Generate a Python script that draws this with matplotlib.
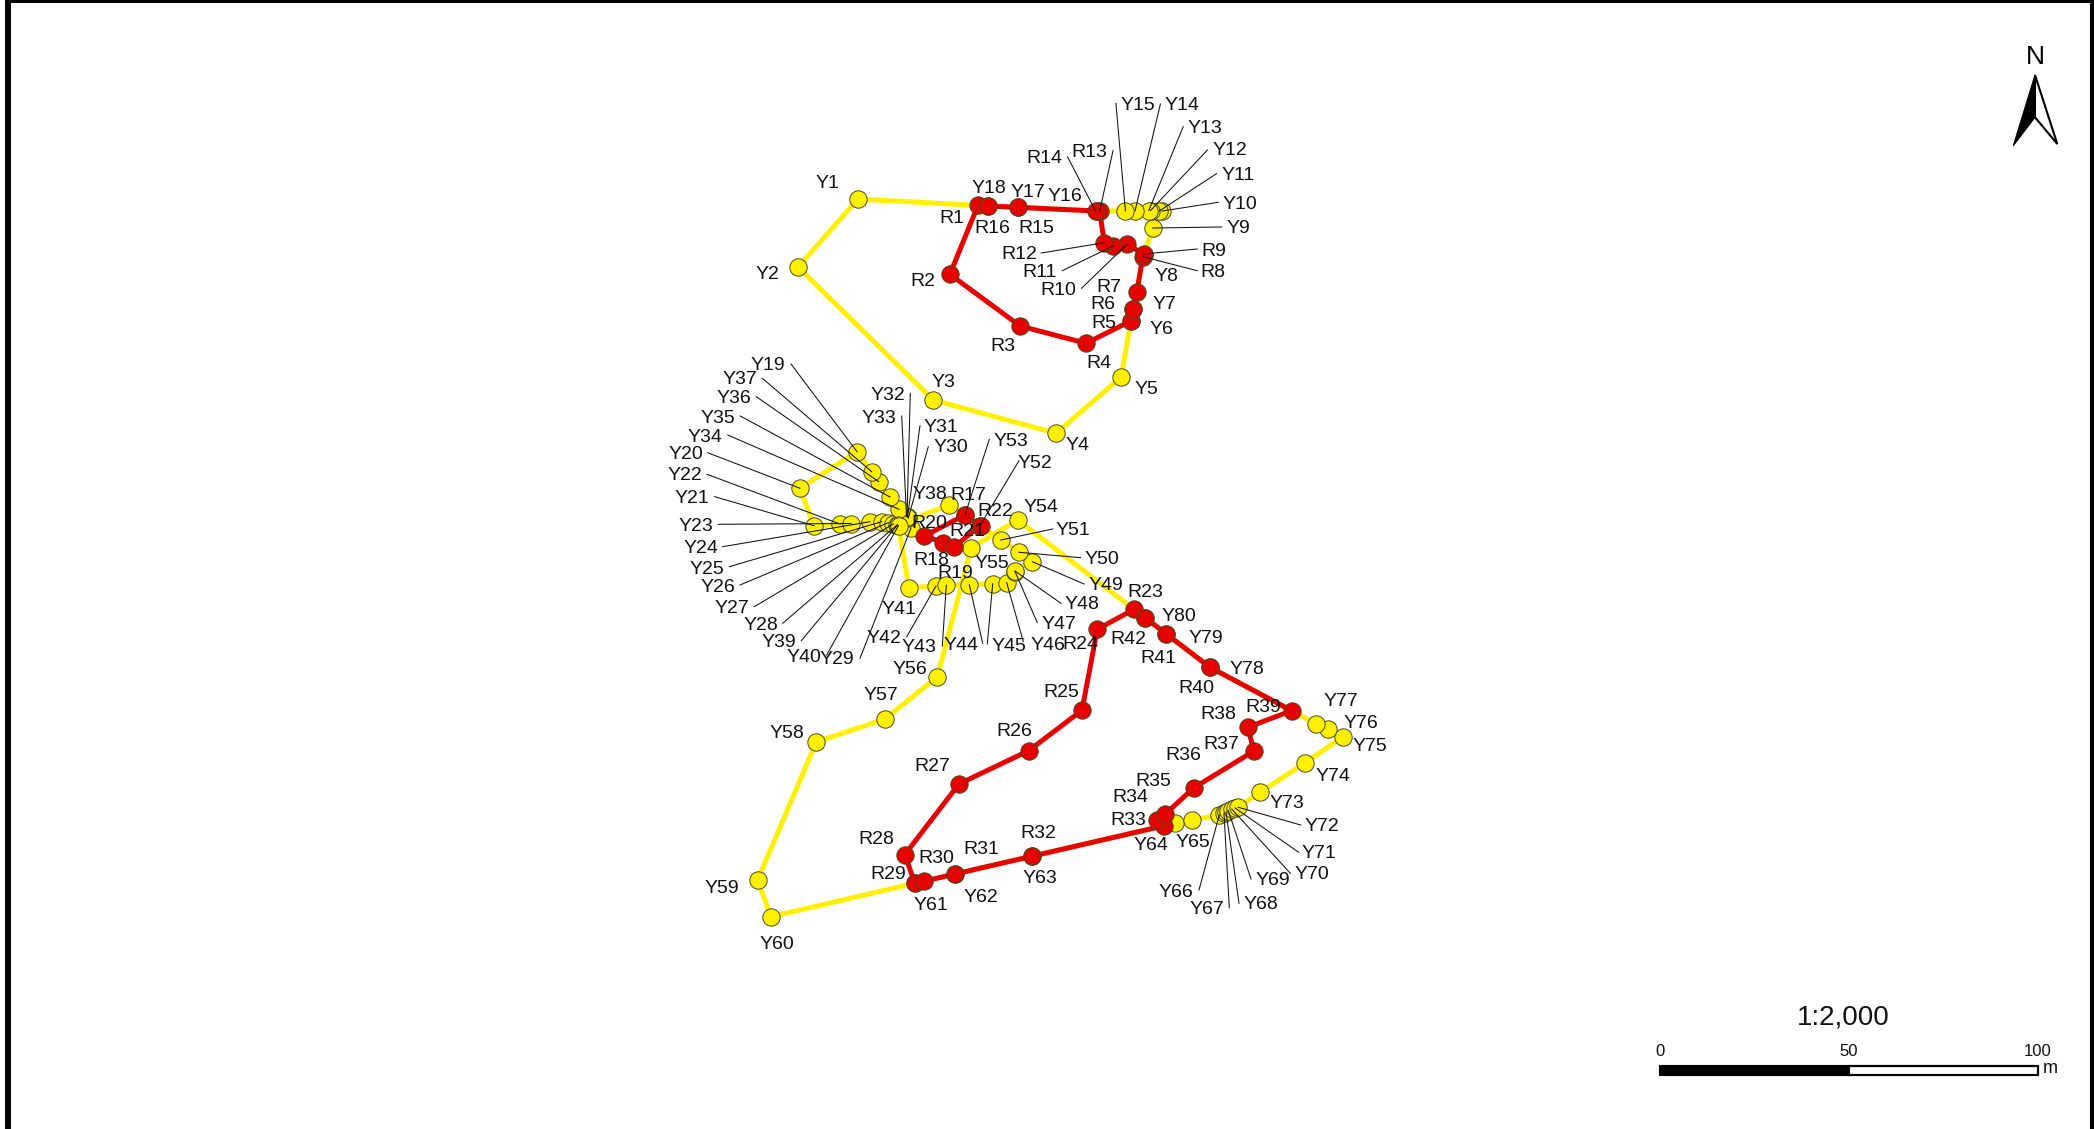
import matplotlib
matplotlib.use("Agg")
import matplotlib.pyplot as plt
from matplotlib.patches import Polygon, Rectangle

plt.rcParams['font.family'] = ['Liberation Sans', 'DejaVu Sans']

#############################################
# DATOS (puntos del mapa)
#############################################
# yellow route Y1..Y80
y_x = [858.1, 798.1, 933.4, 1056.2, 1121.1, 1130.9, 1133.3, 1143.6, 1152.7, 1162.2,
       1159.3, 1150.6, 1148.8, 1135.1, 1125.4, 1097.3, 1017.6, 987.8, 857, 800,
       814, 840, 851, 870, 881.7, 888.3, 893.3, 897, 911, 908.3,
       907.5, 907, 906.5, 899, 890, 878.7, 871.7, 949, 897.5, 898.5,
       909, 936, 946.3, 969.3, 992.7, 1006.7, 1015, 1015, 1032.3, 1019,
       1001, 980, 965, 1017.7, 971.3, 937.3, 885, 816.3, 757.7, 771,
       915, 955, 1031.7, 1175, 1192.3, 1219.3, 1224, 1226, 1228.3, 1231.7,
       1235, 1238.3, 1260, 1305, 1342.7, 1328, 1316, 1210, 1166, 1145]
y_y = [199, 267, 400, 433.3, 377.3, 321, 309, 255, 228, 211,
       211, 210.5, 210.5, 210.7, 211, 211, 207.3, 206, 451.7, 488.3,
       525.7, 524, 523.5, 521.7, 521.7, 522.7, 524, 525, 528, 518,
       517, 516.7, 516.5, 509.3, 497, 481.7, 471.7, 505, 525, 525.5,
       588, 586, 585.3, 584.7, 583.7, 582.7, 571.5, 571, 561.7, 552.3,
       540, 525.7, 515, 520, 547.7, 677, 719, 742, 880, 916.7,
       883.3, 874, 856.3, 823.3, 820, 815, 813.3, 812, 810.5, 809,
       808, 807.3, 792.3, 763, 737, 729.3, 723.7, 667.3, 633.7, 617.7]

# red route R1..R42
r_x = [978, 949.9, 1020.1, 1086, 1130.9, 1133.3, 1136.9, 1142.8, 1143.6, 1127,
       1113, 1104.3, 1099.7, 1095.5, 1017.6, 987.8, 965, 924.3, 943.3, 953.7,
       980, 980.5, 1134, 1097.3, 1082, 1028.7, 959, 904.7, 915, 923.7,
       955, 1031.7, 1164.3, 1156.7, 1165, 1194, 1254, 1247.7, 1291.7, 1210,
       1166, 1145]
r_y = [205.3, 274.3, 326, 343.3, 321, 309, 291.7, 256.7, 254, 244.3,
       246, 242.7, 211, 211, 207.3, 206, 515, 536, 542.7, 547.3,
       525.7, 526, 609.3, 629.3, 710.3, 750.7, 784, 854.7, 883.3, 881.3,
       874, 856.3, 825.7, 820, 814.3, 787.7, 751, 727.3, 710.7, 667.3,
       633.7, 617.7]

# closed loops, first/last number of each one
y_loops = [(1, 18), (19, 37), (38, 53), (54, 80)]
r_loops = [(1, 16), (17, 22), (23, 42)]

# label centres
y_lx = [827.9, 767.6, 943.9, 1077.6, 1146.4, 1161.1, 1164.6, 1166.4, 1238.6, 1240.1,
        1238.3, 1229.5, 1205.3, 1182.2, 1137.6, 1065, 1027.8, 989.2, 768.3, 685.7,
        691.7, 685, 696, 701, 706.7, 718.3, 732.3, 761, 837.3, 951,
        941, 887.7, 879, 705, 718.3, 734, 740, 930, 779, 804.3,
        899.3, 884.3, 919, 961, 1009.3, 1048.3, 1059, 1082.3, 1106, 1102.3,
        1073.3, 1035, 1011, 1041, 991.7, 910, 881, 787.3, 722.3, 777.3,
        930.7, 981, 1040, 1150.7, 1193.3, 1176, 1206.7, 1260.7, 1272.7, 1311.7,
        1319, 1322.3, 1286.7, 1332.7, 1370, 1361.3, 1340.7, 1246.7, 1206, 1179.3]
y_ly = [182.3, 273.3, 380.7, 444.3, 388.3, 328.3, 302.7, 275, 227.3, 202.7,
        173.7, 149.3, 126.7, 104, 104, 195, 190.7, 186.7, 364.3, 453.3,
        497, 474.3, 525, 547.3, 567.7, 586, 607.3, 624, 658.3, 446,
        426, 394.3, 416.7, 436, 416.7, 397.3, 378.3, 493.3, 641, 656,
        608.3, 636.7, 646, 644, 645, 644.3, 623.3, 603.3, 584.3, 557.7,
        529.3, 461.7, 440, 505.7, 561.7, 667.7, 694.3, 731.7, 887.3, 942.7,
        904, 895.7, 877, 844, 841, 891, 908.3, 903.3, 879.3, 873.3,
        852.3, 825, 801.7, 775, 745.3, 721.7, 700, 667.7, 637.3, 615]
r_lx = [951.7, 923.3, 1003.3, 1099, 1104.3, 1103.3, 1108.8, 1213, 1214.1, 1058.6,
        1039.1, 1019.1, 1089.6, 1044.6, 1035.9, 992, 968.3, 931.7, 955, 929,
        967.7, 995.7, 1145, 1080.7, 1061, 1014, 932.7, 876.7, 888.3, 936,
        981.7, 1038.3, 1128.3, 1130, 1153.3, 1183.3, 1221.7, 1218.3, 1263.3, 1196.3,
        1158.3, 1128.3]
r_ly = [217, 280, 345, 362, 322, 303.3, 285.7, 271, 249.7, 289,
        271.3, 253.3, 151, 157.3, 226.7, 227.3, 494, 559, 571.7, 522.3,
        530, 510, 590.7, 643.3, 691, 730.3, 765, 837.7, 872.7, 856.7,
        847.7, 832.3, 819.3, 796, 780, 754.3, 742.7, 713.3, 705.7, 687,
        656.7, 637.7]

# leader lines: where each one starts, it ends on its point
y_leaders = {9: (1221.7, 227), 10: (1218.3, 202.3), 11: (1216.5, 173.7), 12: (1207.4, 150),
             13: (1183.2, 126.7), 14: (1160.4, 104), 15: (1115.9, 103.3), 19: (791, 364),
             20: (707.7, 452.7), 21: (714.7, 496.7), 22: (707, 474.3), 23: (718.3, 524.3),
             24: (722.7, 546.7), 25: (729.3, 566.7), 26: (740, 585), 27: (754.3, 606.7),
             28: (782.7, 623.3), 29: (860, 658.3), 30: (928.3, 446.7), 31: (920, 425.7),
             32: (910.3, 393.3), 33: (901.7, 416), 34: (727.7, 435), 35: (740.3, 416),
             36: (756.3, 396.7), 37: (762.3, 378.3), 39: (801.3, 640.7), 40: (826.7, 655),
             42: (906.7, 636.7), 43: (942.3, 646), 44: (982.7, 643.3), 45: (987.3, 644),
             46: (1023.3, 641.7), 47: (1037.3, 622.7), 48: (1061, 603.3), 49: (1084, 584),
             50: (1080.7, 557.7), 51: (1052.7, 529), 52: (1019, 460.7), 53: (989.3, 439.3),
             66: (1199, 890), 67: (1229.3, 907.7), 68: (1239, 903.3), 69: (1251, 879),
             70: (1290.3, 873.3), 71: (1298.7, 852.3), 72: (1300.7, 825)}
r_leaders = {8: (1197.2, 270.7), 9: (1197.2, 249), 10: (1081.5, 288.3), 11: (1062.2, 270.7),
             12: (1041.2, 253), 13: (1113, 150.7), 14: (1067.5, 156.7)}

# scale bar
scale_text = "1:2,000"
scale_ticks = ["0", "50", "100"]
scale_unit = "m"

#############################################
# GRAFICO
#############################################
fig = plt.figure(figsize=(20.94, 11.29), dpi=100)
ax = fig.add_axes([0, 0, 1, 1])
ax.set_xlim(0, 2094)
ax.set_ylim(1129, 0)
ax.axis("off")


def draw_loops(xs, ys, loops, color, z):
    for a, b in loops:
        idx = list(range(a - 1, b)) + [a - 1]
        ax.plot([xs[i] for i in idx], [ys[i] for i in idx], color=color, lw=3.6,
                solid_joinstyle="round", zorder=z)
    ax.plot(xs, ys, ls="none", marker="o", ms=12.5, mfc=color, mec="#4a4a20", mew=0.7, zorder=z + 1)


draw_loops(y_x, y_y, y_loops, "#FFF000", 2)
draw_loops(r_x, r_y, r_loops, "#E60000", 4)

for n, (sx, sy) in y_leaders.items():
    ax.plot([sx, y_x[n - 1]], [sy, y_y[n - 1]], color="#111111", lw=0.75, zorder=6)
for n, (sx, sy) in r_leaders.items():
    ax.plot([sx, r_x[n - 1]], [sy, r_y[n - 1]], color="#111111", lw=0.75, zorder=6)

# las etiquetas quedaban un poco altas
for i in range(len(y_x)):
    ax.text(y_lx[i], y_ly[i] + 1.5, "Y%d" % (i + 1), fontsize=14, ha="center", va="center",
            color="#111111", zorder=7)
for i in range(len(r_x)):
    ax.text(r_lx[i], r_ly[i] + 1.5, "R%d" % (i + 1), fontsize=14, ha="center", va="center",
            color="#111111", zorder=7)

# marco negro
ax.add_patch(Rectangle((5, 0), 6, 1129, fc="black", ec="none", zorder=8))
ax.add_patch(Rectangle((5, 0), 2089, 3.3, fc="black", ec="none", zorder=8))
ax.add_patch(Rectangle((2090, 0), 4, 1129, fc="black", ec="none", zorder=8))

# flecha norte
ax.text(2035.7, 57.3, "N", fontsize=19, ha="center", va="center", color="black")
ax.add_patch(Polygon([(2035, 75), (2035, 117.3), (2013.3, 145.7)], fc="black", ec="black", lw=0.8))
ax.add_patch(Polygon([(2035, 75), (2057.3, 144), (2035, 117.3)], fc="white", ec="black", lw=1.5,
                     joinstyle="miter"))

# escala
ax.text(1843.3, 1018, scale_text, fontsize=20, ha="center", va="center", color="#111111")
for t, lx in zip(scale_ticks, [1660, 1849, 2037.3]):
    ax.text(lx, 1051, t, fontsize=12, ha="center", va="center", color="#111111")
ax.text(2050, 1068.5, scale_unit, fontsize=13, ha="center", va="center", color="#111111")
ax.add_patch(Rectangle((1659, 1064.5), 190, 10.5, fc="black", ec="black", lw=0.8))
ax.add_patch(Rectangle((1849, 1065.5), 189, 9, fc="white", ec="black", lw=1.6))

plt.savefig("out.png", dpi=100)
